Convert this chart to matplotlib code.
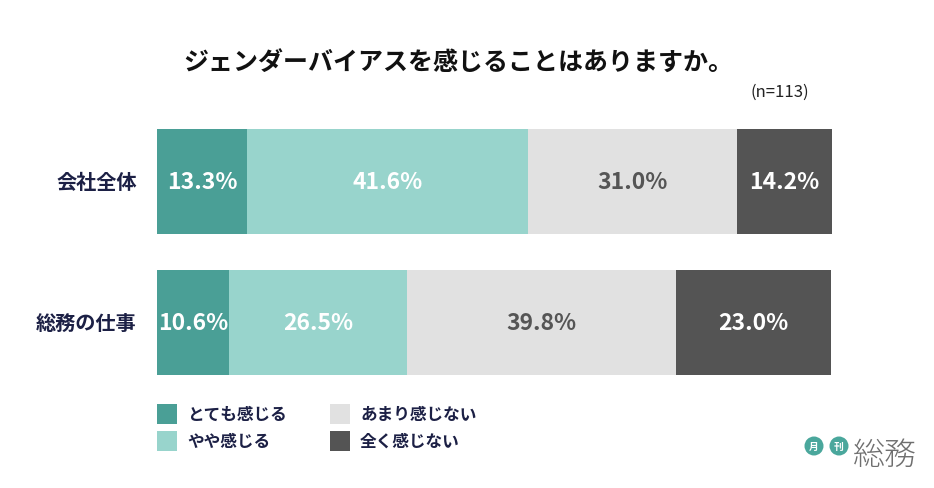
import matplotlib
matplotlib.use("Agg")
import matplotlib.pyplot as plt
from matplotlib.patches import Rectangle, Ellipse

plt.rcParams['font.family'] = ['Noto Sans CJK JP', 'DejaVu Sans']

categories = ['会社全体', '総務の仕事']
series_names = ['とても感じる', 'やや感じる', 'あまり感じない', '全く感じない']
values = [
    [13.3, 10.6],   # とても感じる
    [41.6, 26.5],   # やや感じる
    [31.0, 39.8],   # あまり感じない
    [14.2, 23.0],   # 全く感じない
]
colors = ['#4a9f96', '#98d4cc', '#e1e1e1', '#545454']
text_colors = ['white', 'white', '#555555', 'white']
title = 'ジェンダーバイアスを感じることはありますか。'
note = '(n=113)'

W, H = 934, 489
fig = plt.figure(figsize=(W / 100, H / 100), dpi=100)
fig.patch.set_facecolor('white')

def fx(px):
    return px / W

def fy(py):
    return 1 - py / H

# bars axes
ax = fig.add_axes([fx(157), fy(394), fx(832) - fx(157), (394 - 112) / H])
ax.set_xlim(0, 100)
ax.set_ylim(1.5, -0.5)
ax.axis('off')

ys = list(range(len(categories)))
lefts = [0.0] * len(categories)
for s, vals in enumerate(values):
    ax.barh(ys, vals, left=lefts, height=0.745, color=colors[s], edgecolor='none')
    for i, v in enumerate(vals):
        ax.text(lefts[i] + v / 2, ys[i], f'{v:.1f}%', ha='center', va='center',
                color=text_colors[s], fontsize=16.5, fontweight='bold')
        lefts[i] += v

for i, c in enumerate(categories):
    ax.text(-3.0, ys[i], c, ha='right', va='center', fontsize=14.5,
            fontweight='bold', color='#1c2045')

# title and note
fig.text(fx(458), fy(64), title, ha='center', va='center', fontsize=18,
         fontweight='bold', color='#111111')
fig.text(fx(780), fy(92), note, ha='center', va='center', fontsize=12,
         color='#222222')

# legend
leg_pos = [(157, 415), (157, 442), (330, 415), (330, 442)]
for s, name in enumerate(series_names):
    x0, yc = leg_pos[s]
    fig.patches.append(Rectangle((fx(x0), fy(yc + 10)), 20 / W, 20 / H,
                                 transform=fig.transFigure, facecolor=colors[s],
                                 edgecolor='none'))
    fig.text(fx(x0 + 30), fy(yc), name, ha='left', va='center', fontsize=12,
             fontweight='bold', color='#1c2045')

# logo
for cx, ch in [(814, '月'), (839, '刊')]:
    fig.patches.append(Ellipse((fx(cx), fy(447)), 19 / W, 19 / H,
                               transform=fig.transFigure, facecolor='#4aa79c',
                               edgecolor='none'))
    fig.text(fx(cx), fy(447), ch, ha='center', va='center', fontsize=7,
             fontweight='bold', color='white')
fig.text(fx(885), fy(456), '総務', ha='center', va='center', fontsize=23,
         fontweight='light', color='#6f6f6f')

fig.savefig('out.png', dpi=100, facecolor='white')
